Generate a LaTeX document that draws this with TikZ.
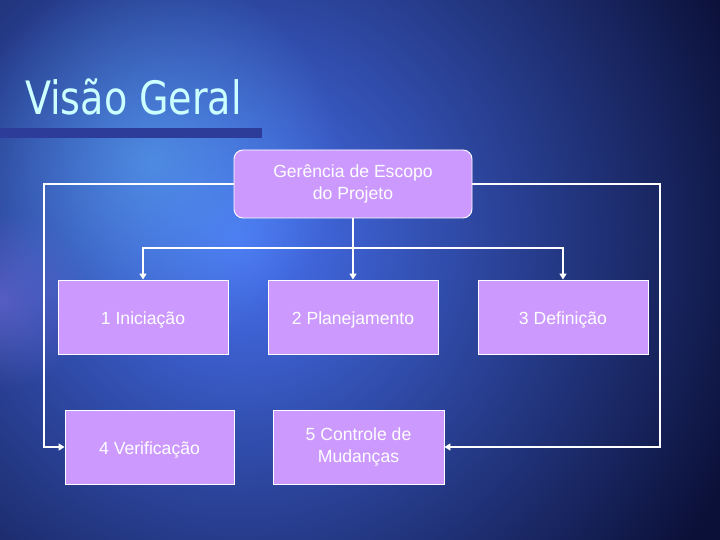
\documentclass[tikz,border=0pt]{standalone}
\usepackage{fontspec}
\setmainfont{Liberation Sans}
\newfontfamily\titlefont{DejaVu Sans Condensed}
\usetikzlibrary{positioning,arrows.meta,fadings}

\definecolor{lilac}{HTML}{CC99FF}
\definecolor{navy}{HTML}{0B1038}
\definecolor{midblue}{HTML}{4872F2}
\definecolor{skyblue}{HTML}{5FB0F6}
\definecolor{violet}{HTML}{8A7CF0}
\definecolor{titlecyan}{HTML}{CCFFFF}
\definecolor{barblue}{HTML}{2C3C98}

\tikzfading[name=glow, inner color=transparent!0, outer color=transparent!100]

\tikzset{
  box/.style={draw=white, line width=0.9pt, fill=lilac, text=white,
    minimum width=170pt, minimum height=74pt, align=center,
    font=\fontsize{17.6}{22}\selectfont, execute at begin node=\rule[-3pt]{0pt}{21pt}},
  topbox/.style={box, rounded corners=9pt, minimum width=238pt, minimum height=68pt},
  conn/.style={draw=white, line width=1.8pt, -{Triangle[width=7pt,length=6pt]}},
}

\begin{document}
\begin{tikzpicture}[x=1pt,y=-1pt]
			\useasboundingbox (0,0) rectangle (720,540);
			% background
			\begin{scope}
				\clip (0,0) rectangle (720,540);
				\fill[navy] (0,0) rectangle (720,540);
				\shade[inner color=midblue, outer color=navy] (240,240) circle (540pt);
				\fill[skyblue, path fading=glow, fill opacity=0.55] (150,160) circle (190pt);
				\fill[violet, path fading=glow, fill opacity=0.45] (0,300) circle (90pt);
			\end{scope}
			
			% title
			\node[anchor=base west, text=titlecyan, font=\titlefont\fontsize{46}{50}\selectfont, inner sep=0pt] (title) at (25,115) {\scalebox{0.92}[1]{Visão Geral}};
			\fill[barblue] (0,128) rectangle (262,138);
			
			% boxes
			\node[topbox] (scope) at (353,184) {Gerência de Escopo\\do Projeto};
			\node[box] (ini) at (143,317) {1 Iniciação};
			\node[box] (plan) at (353,317) {2 Planejamento};
			\node[box] (defi) at (563,317) {3 Definição};
			\node[box, minimum width=169pt] (verif) at (149.5,447) {4 Verificação};
			\node[box, minimum width=171pt] (ctrl) at (358.5,447) {5 Controle de\\Mudanças};
			
			% connectors
			\coordinate (bus) at (353,248);
			\coordinate (lcorner) at (44,184);
			\coordinate (rcorner) at (660,184);
			\draw[conn] (scope.south) -- (plan.north);
			\draw[conn] (bus) -| (ini.north);
			\draw[conn] (bus) -| (defi.north);
			\draw[conn] (scope.west) -- (lcorner) |- (verif.west);
			\draw[conn] (scope.east) -- (rcorner) |- (ctrl.east);
		\end{tikzpicture}
\end{document}
